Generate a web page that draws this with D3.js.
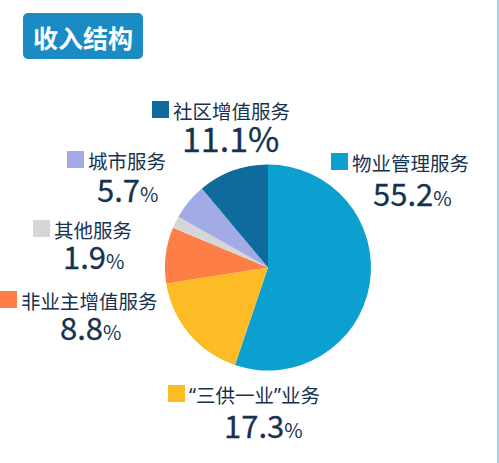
<!DOCTYPE html>
<html>
<head>
<meta charset="utf-8">
<script src="https://cdn.jsdelivr.net/npm/d3@7"></script>
<style>
  body { margin: 0; background: #fff; }
  svg { display: block; font-family: "Noto Sans CJK SC", "Noto Sans", sans-serif; }
</style>
</head>
<body>
<svg id="chart" width="499" height="463"></svg>
<script>
// data
const categories = ["物业管理服务", "“三供一业”业务", "非业主增值服务", "其他服务", "城市服务", "社区增值服务"];
const values = [55.2, 17.3, 8.8, 1.9, 5.7, 11.1];
const colors = ["#0ba0cf", "#fdbb25", "#fd7f45", "#d5d6d8", "#a3abe6", "#0e6b9c"];

// where each annotation sits (hand placed, like the original)
const labelPos = [
  { sx: 331, sy: 153, nx: 373, ny: 206, bigPct: false },
  { sx: 168, sy: 385, nx: 224, ny: 438, bigPct: false },
  { sx: 0,   sy: 291, nx: 60,  ny: 340, bigPct: false },
  { sx: 33,  sy: 220, nx: 63,  ny: 269, bigPct: false },
  { sx: 67,  sy: 151, nx: 97,  ny: 202, bigPct: false },
  { sx: 152, sy: 101, nx: 182, ny: 152, bigPct: true }
];

const svg = d3.select("#chart");
const navy = "#17324f";

// right edge line
svg.append("rect")
  .attr("x", 497).attr("y", 0)
  .attr("width", 2).attr("height", 463)
  .style("fill", "#9fd3e8");

// title
svg.append("rect")
  .attr("x", 23).attr("y", 13)
  .attr("width", 120).attr("height", 46)
  .attr("rx", 5)
  .style("fill", "#1b8bc4");
svg.append("text")
  .attr("x", 83).attr("y", 37)
  .attr("text-anchor", "middle")
  .attr("dominant-baseline", "central")
  .style("font-size", "25px")
  .style("font-weight", "bold")
  .style("fill", "#fff")
  .text("收入结构");

// pie
const r = 103;
const pie = d3.pie().sort(null).value(d => d);
const arc = d3.arc().innerRadius(0).outerRadius(r);

svg.append("g")
  .attr("transform", "translate(268,267.5)")
  .selectAll("path")
  .data(pie(values))
  .enter()
  .append("path")
  .attr("d", arc)
  .style("fill", (d, i) => colors[i]);

// labels
const lab = svg.append("g")
  .selectAll("g")
  .data(categories)
  .enter()
  .append("g");

lab.append("rect")
  .attr("x", (d, i) => labelPos[i].sx)
  .attr("y", (d, i) => labelPos[i].sy)
  .attr("width", 17).attr("height", 17)
  .style("fill", (d, i) => colors[i]);

const name = lab.append("text")
  .attr("x", (d, i) => labelPos[i].sx + 21)
  .attr("y", (d, i) => labelPos[i].sy + 8.5)
  .attr("dominant-baseline", "central")
  .style("font-size", "19.5px")
  .style("fill", navy);

// curly quotes are set in a latin face so they stay narrow
name.selectAll("tspan")
  .data(d => d.split(/([“”])/).filter(s => s))
  .enter()
  .append("tspan")
  .style("font-family", s => /[“”]/.test(s) ? "'Noto Sans', sans-serif" : null)
  .text(s => s);

// no medium weight installed, a thin stroke gets close to it
const num = lab.append("text")
  .attr("x", (d, i) => labelPos[i].nx)
  .attr("y", (d, i) => labelPos[i].ny)
  .style("font-size", (d, i) => labelPos[i].bigPct ? "34px" : "31px")
  .style("font-weight", "normal")
  .style("fill", navy)
  .style("stroke", navy)
  .style("stroke-width", "0.3");

num.append("tspan")
  .text((d, i) => values[i].toFixed(1));
num.append("tspan")
  .style("font-size", (d, i) => labelPos[i].bigPct ? "34px" : "20px")
  .style("stroke-width", (d, i) => labelPos[i].bigPct ? "0.3" : "0")
  .text("%");
</script>
</body>
</html>
